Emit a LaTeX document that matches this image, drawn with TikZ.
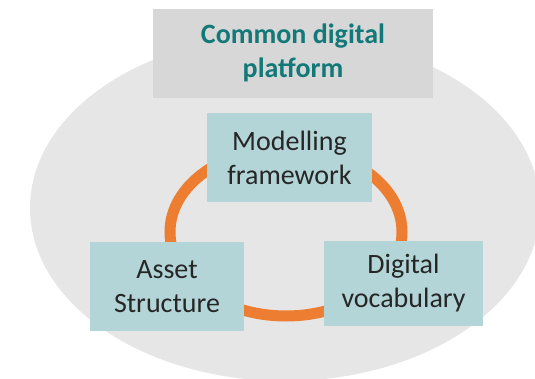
\documentclass[tikz,border=0pt]{standalone}
\usepackage{fontspec}
\setmainfont{Carlito}
\usepackage{tikz}
\usetikzlibrary{positioning, shapes.geometric}
\pgfdeclarelayer{background}
\pgfdeclarelayer{foreground}
\pgfsetlayers{background,main,foreground}
\definecolor{platformgrey}{HTML}{D7D7D7}
\definecolor{ovalgrey}{HTML}{E6E6E6}
\definecolor{blockteal}{HTML}{B3D5D7}
\definecolor{titleteal}{HTML}{137878}
\definecolor{ringorange}{HTML}{ED7D31}
\tikzset{
    block/.style={rectangle, fill=blockteal, align=center, inner sep=0pt,
      font=\fontsize{28}{34}\selectfont, text=black!85},
    platformbox/.style={rectangle, fill=platformgrey, align=center, inner sep=0pt,
      minimum width=280pt, minimum height=89pt,
      font=\fontsize{28}{34}\selectfont\bfseries, text=titleteal},
}

\begin{document}
\begin{tikzpicture}[x=1pt, y=-1pt]
    \useasboundingbox (0,0) rectangle (535,379);
    \clip (0,0) rectangle (535,379);

    \node[block, minimum width=165pt, minimum height=89pt] (model) at (289.5,157.5) {Modelling\\framework};
    \node[block, minimum width=154pt, minimum height=89pt] (asset) at (167,286.5) {Asset\\Structure};
    \node[block, minimum width=159pt, minimum height=85pt] (vocab) at (403.5,283.5) {Digital\\vocabulary};
    \node[platformbox, above=15pt of model, xshift=3.5pt] (platform) {Common digital\\platform};

    \begin{pgfonlayer}{background}
      \fill[ovalgrey] (285,208) ellipse [x radius=255, y radius=173];
      \node[ellipse, draw=ringorange, line width=11pt, minimum width=232pt, minimum height=168pt, inner sep=0pt] (ring) at (286,232) {};
    \end{pgfonlayer}

\end{tikzpicture}
\end{document}
